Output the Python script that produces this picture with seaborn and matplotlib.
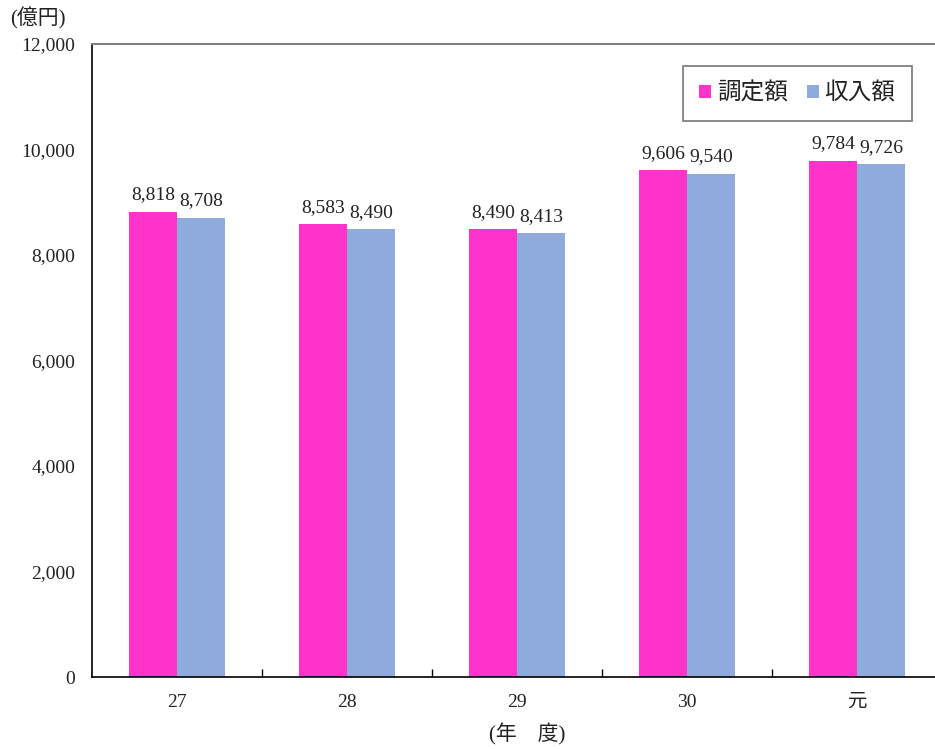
import matplotlib
matplotlib.use("Agg")
import matplotlib.pyplot as plt
import seaborn as sns
import pandas as pd
from matplotlib.ticker import FuncFormatter, FixedLocator

years = ["27", "28", "29", "30", "元"]
series_names = ["調定額", "収入額"]
assessed = [8818, 8583, 8490, 9606, 9784]
received = [8708, 8490, 8413, 9540, 9726]
colors = ["#FF33CC", "#8FAADC"]

sns.set_theme(style="white")
fam = ["Liberation Serif", "Noto Sans CJK JP"]
plt.rcParams["font.family"] = fam

df = pd.DataFrame({
    "year": years * 2,
    "series": [series_names[0]] * len(years) + [series_names[1]] * len(years),
    "value": assessed + received,
})

fig = plt.figure(figsize=(9.35, 7.49), dpi=100)
ax = fig.add_axes([92 / 935, 72 / 749, 850 / 935, 633 / 749])

sns.barplot(data=df, x="year", y="value", hue="series", order=years,
            hue_order=series_names, palette=colors, width=0.565, gap=0,
            saturation=1, ax=ax, legend=True, linewidth=0)

for cont in ax.containers:
    ax.bar_label(cont, labels=[f"{v:,.0f}" for v in cont.datavalues],
                 padding=6, fontsize=14, family=fam, color="#222222")

ax.set_xlim(-0.5, 4.5)
ax.set_ylim(0, 12000)
ax.set_yticks(range(0, 12001, 2000))
ax.yaxis.set_major_formatter(FuncFormatter(lambda v, p: f"{v:,.0f}"))
ax.tick_params(axis="y", length=0, labelsize=14, pad=12)
ax.tick_params(axis="x", which="major", length=0, labelsize=14, pad=12)
ax.xaxis.set_minor_locator(FixedLocator([0.5, 1.5, 2.5, 3.5]))
ax.tick_params(axis="x", which="minor", bottom=True, direction="in", length=6,
               width=1, color="black")
ax.set_xlabel("")
ax.set_ylabel("")

for s in ["left", "bottom"]:
    ax.spines[s].set_color("black")
    ax.spines[s].set_linewidth(1.2)
for s in ["top", "right"]:
    ax.spines[s].set_color("#808080")
    ax.spines[s].set_linewidth(1.5)

for lab in ax.get_xticklabels() + ax.get_yticklabels():
    lab.set_family(fam)
    lab.set_color("#222222")

leg = ax.legend(loc="upper right", bbox_to_anchor=((912 - 92) / 850, 1 - 22 / 633),
                frameon=True, fancybox=False, handlelength=0.5,
                handleheight=0.5, handletextpad=0.25, columnspacing=0.8, ncol=2,
                borderpad=0.7, borderaxespad=0,
                prop={"family": fam, "size": 17})
leg.get_frame().set_edgecolor("#555555")
leg.get_frame().set_linewidth(1.2)
for t in leg.get_texts():
    t.set_color("#222222")

fig.text(38 / 935, 1 - 18 / 749, "(億円)", ha="center", va="center", fontsize=15,
         family=fam, color="#222222")
fig.text(527 / 935, 1 - 734 / 749, "(年　度)", ha="center", va="center", fontsize=15,
         family=fam, color="#222222")

fig.savefig("out.png", dpi=100)
